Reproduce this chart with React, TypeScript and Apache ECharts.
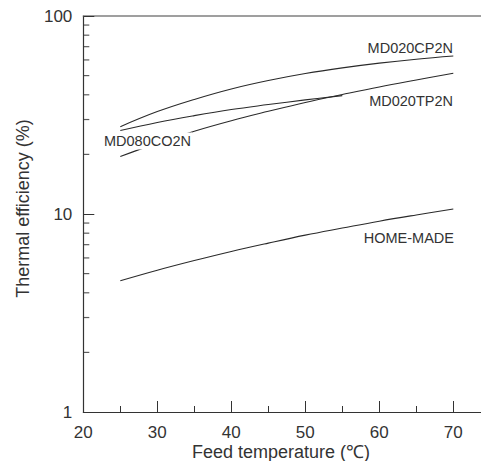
import React, { useEffect, useRef } from "react";
import * as echarts from "echarts";

// Feed temperature (°C) sample points
const temps = [25, 30, 35, 40, 45, 50, 55, 60, 65, 70];
const co2nTemps = [25, 30, 35, 40, 45, 50, 55];

// Thermal efficiency (%) for each module
const cp2n = [27.6, 32.9, 37.9, 42.8, 47.2, 51.2, 54.7, 57.8, 60.5, 62.8];
const co2n = [26.4, 29.0, 31.4, 33.7, 35.7, 37.7, 39.6];
const tp2n = [19.5, 22.8, 26.2, 29.6, 33.0, 36.6, 40.1, 43.8, 47.5, 51.4];
const homeMade = [4.6, 5.2, 5.82, 6.47, 7.13, 7.82, 8.49, 9.2, 9.89, 10.59];

// Axis ticks
const xTickLabels = [20, 30, 40, 50, 60, 70];
const yMinorTicks = [2, 3, 4, 5, 6, 7, 8, 9, 20, 30, 40, 50, 60, 70, 80, 90];

const X_MIN = 20;
const X_MAX = 80;

const FONT = "'Liberation Sans', Arial, Helvetica, sans-serif";
const INK = "#333";

const pairs = (xs: number[], ys: number[]) => xs.map((x, i) => [x, ys[i]]);

const lineSeries = (name: string, data: number[][]) => ({
  name,
  type: "line",
  data,
  smooth: 0.4,
  showSymbol: false,
  symbol: "none",
  lineStyle: { color: "#2a2a2a", width: 1.1 },
});

export default function App() {
  const ref = useRef<HTMLDivElement>(null);

  useEffect(() => {
    document.body.style.margin = "0";
    const chart = echarts.init(ref.current!, null, { renderer: "svg" });
    chart.setOption({
      animation: false,
      backgroundColor: "#fff",
      grid: {
        left: 83.3,
        top: 16,
        bottom: 49,
        right: -46.3,
        containLabel: false,
        outerBoundsMode: "none",
      },
      xAxis: [
        {
          type: "value",
          min: X_MIN,
          max: X_MAX,
          interval: 10,
          axisLine: { show: true, lineStyle: { color: INK, width: 1.2 } },
          axisTick: {
            show: true,
            inside: true,
            length: 11,
            lineStyle: { color: INK, width: 1 },
          },
          minorTick: {
            show: true,
            splitNumber: 2,
            length: 6,
            lineStyle: { color: INK, width: 1 },
          },
          axisLabel: {
            color: INK,
            fontSize: 17,
            fontFamily: FONT,
            margin: 12,
            customValues: xTickLabels,
          },
          splitLine: { show: false },
        },
        {
          type: "value",
          position: "top",
          min: X_MIN,
          max: X_MAX,
          axisLine: { show: true, lineStyle: { color: "#808080", width: 1.5 } },
          axisTick: { show: false },
          axisLabel: { show: false },
          splitLine: { show: false },
        },
      ],
      yAxis: {
        type: "log",
        logBase: 10,
        min: 1,
        max: 100,
        axisLine: { show: true, lineStyle: { color: INK, width: 1.2 } },
        axisTick: {
          show: true,
          inside: true,
          length: 11,
          lineStyle: { color: INK, width: 1 },
        },
        axisLabel: {
          color: INK,
          fontSize: 17,
          fontFamily: FONT,
          margin: 11,
        },
        splitLine: { show: false },
      },
      series: [
        lineSeries("MD020CP2N", pairs(temps, cp2n)),
        lineSeries("MD080CO2N", pairs(co2nTemps, co2n)),
        lineSeries("MD020TP2N", pairs(temps, tp2n)),
        lineSeries("HOME-MADE", pairs(temps, homeMade)),
        {
          // short inward ticks at 2..9 of each decade on the log axis
          name: "decade ticks",
          type: "scatter",
          silent: true,
          clip: false,
          data: yMinorTicks.map((v) => [X_MIN, v]),
          symbol: "rect",
          symbolSize: [6, 1.2],
          symbolOffset: [3, 0],
          itemStyle: { color: INK },
          z: 5,
        },
      ],
      graphic: [
        {
          type: "text",
          x: 453,
          y: 48,
          z: 100,
          style: {
            text: "MD020CP2N",
            textAlign: "right",
            textVerticalAlign: "middle",
            fill: INK,
            font: `14.5px ${FONT}`,
          },
        },
        {
          type: "text",
          x: 453,
          y: 101,
          z: 100,
          style: {
            text: "MD020TP2N",
            textAlign: "right",
            textVerticalAlign: "middle",
            fill: INK,
            font: `14.5px ${FONT}`,
          },
        },
        {
          type: "text",
          x: 103,
          y: 141,
          z: 100,
          style: {
            text: "MD080CO2N",
            textAlign: "left",
            textVerticalAlign: "middle",
            fill: INK,
            font: `14.5px ${FONT}`,
            backgroundColor: "#fff",
            padding: [1, 1, 1, 1],
          },
        },
        {
          type: "text",
          x: 454,
          y: 238,
          z: 100,
          style: {
            text: "HOME-MADE",
            textAlign: "right",
            textVerticalAlign: "middle",
            fill: INK,
            font: `14.5px ${FONT}`,
          },
        },
        {
          type: "text",
          x: 281,
          y: 452,
          z: 100,
          style: {
            text: "Feed temperature (℃)",
            textAlign: "center",
            textVerticalAlign: "middle",
            fill: INK,
            font: `18px ${FONT}`,
          },
        },
        {
          type: "text",
          x: 22.5,
          y: 208.5,
          z: 100,
          rotation: Math.PI / 2,
          style: {
            text: "Thermal efficiency (%)",
            textAlign: "center",
            textVerticalAlign: "middle",
            fill: INK,
            font: `18px ${FONT}`,
          },
        },
      ],
    });
    return () => chart.dispose();
  }, []);

  return (
    <div
      ref={ref}
      style={{ position: "absolute", left: 0, top: 0, width: 481, height: 461 }}
    />
  );
}
